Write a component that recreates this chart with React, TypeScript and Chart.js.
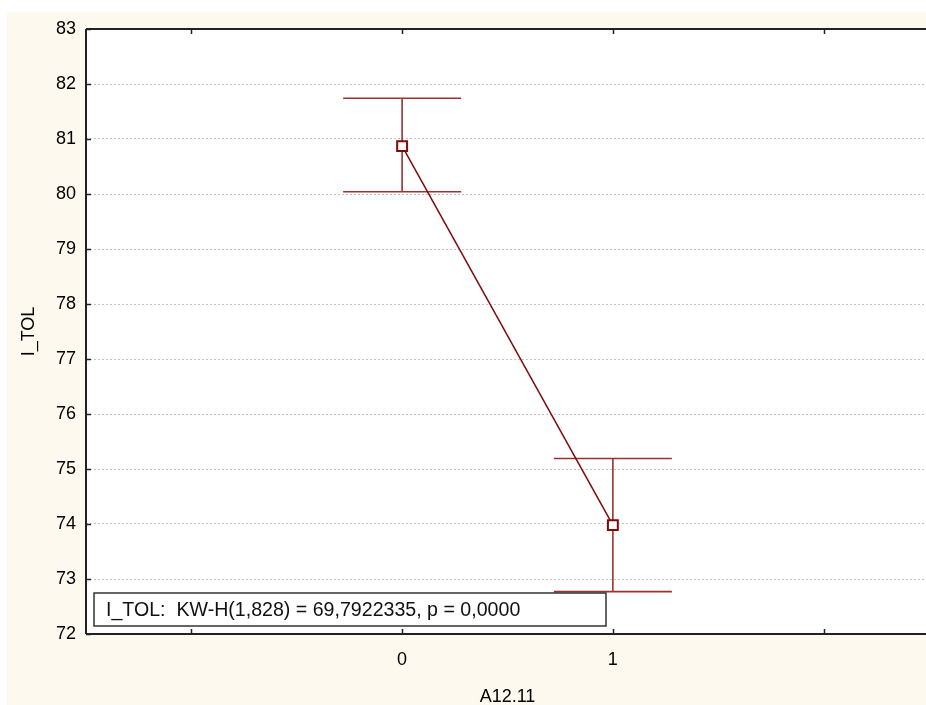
import React, { useEffect, useRef } from "react";
import { Chart, registerables } from "chart.js";

Chart.register(...registerables);

const categories = [0, 1];
const means = [80.87, 73.98];
const lowerBounds = [80.04, 72.77];
const upperBounds = [81.74, 75.19];
const xTickValues = [-1, 0, 1, 2];
const xTickLabels = ["", "0", "1", ""];
const yTicks = [72, 73, 74, 75, 76, 77, 78, 79, 80, 81, 82, 83];
const statText = "I_TOL:  KW-H(1,828) = 69,7922335, p = 0,0000";
const xTitle = "A12.11";
const yTitle = "I_TOL";

const FONT = "'Liberation Sans', Arial, sans-serif";
const LINE_COLOR = "#7f0a0a";
const BAR_COLOR = "#993333";
const AXIS_COLOR = "#222222";

const framePlugin = {
  id: "frameAndBars",
  beforeDraw(chart: any) {
    const { ctx, chartArea } = chart;
    ctx.save();
    ctx.fillStyle = "#ffffff";
    ctx.fillRect(chartArea.left, chartArea.top, chartArea.right - chartArea.left, chartArea.bottom - chartArea.top);
    ctx.restore();
  },
  beforeDatasetsDraw(chart: any) {
    const { ctx, scales } = chart;
    const xs = scales.x;
    const ys = scales.y;
    const capHalf = 0.28;
    ctx.save();
    ctx.strokeStyle = BAR_COLOR;
    ctx.lineWidth = 1.6;
    categories.forEach((c, i) => {
      const x = xs.getPixelForValue(c);
      const yl = ys.getPixelForValue(lowerBounds[i]);
      const yu = ys.getPixelForValue(upperBounds[i]);
      const xl = xs.getPixelForValue(c - capHalf);
      const xr = xs.getPixelForValue(c + capHalf);
      ctx.beginPath();
      ctx.moveTo(x, yl);
      ctx.lineTo(x, yu);
      ctx.moveTo(xl, yl);
      ctx.lineTo(xr, yl);
      ctx.moveTo(xl, yu);
      ctx.lineTo(xr, yu);
      ctx.stroke();
    });
    ctx.restore();
  },
  afterDraw(chart: any) {
    const { ctx, chartArea, scales } = chart;
    const xs = scales.x;
    const ys = scales.y;
    ctx.save();
    ctx.strokeStyle = AXIS_COLOR;
    ctx.lineWidth = 2;
    ctx.beginPath();
    ctx.moveTo(chartArea.left, chartArea.top);
    ctx.lineTo(chartArea.right, chartArea.top);
    ctx.moveTo(chartArea.left, chartArea.top);
    ctx.lineTo(chartArea.left, chartArea.bottom);
    ctx.moveTo(chartArea.left, chartArea.bottom);
    ctx.lineTo(chartArea.right, chartArea.bottom);
    ctx.stroke();
    ctx.lineWidth = 1.5;
    ctx.beginPath();
    xTickValues.forEach((v) => {
      const x = Math.round(xs.getPixelForValue(v)) + 0.5;
      ctx.moveTo(x, chartArea.top);
      ctx.lineTo(x, chartArea.top + 5);
      ctx.moveTo(x, chartArea.bottom);
      ctx.lineTo(x, chartArea.bottom - 5);
    });
    yTicks.forEach((v) => {
      const y = Math.round(ys.getPixelForValue(v)) + 0.5;
      ctx.moveTo(chartArea.left, y);
      ctx.lineTo(chartArea.left + 5, y);
    });
    ctx.stroke();
    const bx = chartArea.left + 8;
    const bh = 33;
    const by = chartArea.bottom - 8 - bh;
    const bw = 512;
    ctx.fillStyle = "#ffffff";
    ctx.fillRect(bx, by, bw, bh);
    ctx.strokeStyle = "#333333";
    ctx.lineWidth = 1.5;
    ctx.strokeRect(bx, by, bw, bh);
    ctx.fillStyle = "#111111";
    ctx.font = `19.6px ${FONT}`;
    ctx.textBaseline = "middle";
    ctx.textAlign = "left";
    ctx.fillText(statText, bx + 12, by + bh / 2 + 1);
    ctx.restore();
  },
};

export default function App() {
  const canvasRef = useRef<HTMLCanvasElement | null>(null);

  useEffect(() => {
    if (!canvasRef.current) return;
    const chart = new Chart(canvasRef.current, {
      type: "line",
      data: {
        datasets: [
          {
            data: categories.map((c, i) => ({ x: c, y: means[i] })),
            borderColor: LINE_COLOR,
            borderWidth: 1.5,
            pointStyle: "rect",
            pointRadius: 7,
            pointBackgroundColor: "#ffffff",
            pointBorderColor: LINE_COLOR,
            pointBorderWidth: 2,
            tension: 0,
          },
        ],
      },
      options: {
        responsive: false,
        animation: false,
        devicePixelRatio: 1,
        layout: { padding: { top: 17, right: 1, left: 0, bottom: 0 } },
        plugins: {
          legend: { display: false },
          tooltip: { enabled: false },
        },
        scales: {
          x: {
            type: "linear",
            min: -1.5,
            max: 2.5,
            afterBuildTicks: (scale: any) => {
              scale.ticks = xTickValues.map((v) => ({ value: v }));
            },
            afterFit: (scale: any) => {
              scale.height = 71;
              scale.paddingLeft = 0;
              scale.paddingRight = 0;
            },
            grid: { display: false, drawTicks: false },
            border: { display: false },
            ticks: {
              padding: 15,
              color: "#000000",
              font: { family: FONT, size: 18 },
              callback: (v: any) => {
                const idx = xTickValues.indexOf(Number(v));
                return idx >= 0 ? xTickLabels[idx] : "";
              },
            },
            title: {
              display: true,
              text: xTitle,
              color: "#000000",
              font: { family: FONT, size: 18 },
              padding: { top: 0, bottom: -3 },
            },
          },
          y: {
            type: "linear",
            min: 72,
            max: 83,
            afterBuildTicks: (scale: any) => {
              scale.ticks = yTicks.map((v) => ({ value: v }));
            },
            afterFit: (scale: any) => {
              scale.width = 79;
              scale.paddingTop = 0;
              scale.paddingBottom = 0;
            },
            grid: { color: "#c4c4c4", lineWidth: 1, drawTicks: false },
            border: { display: false, dash: [2, 2] },
            ticks: {
              padding: 10,
              color: "#000000",
              font: { family: FONT, size: 18 },
            },
            title: {
              display: true,
              text: yTitle,
              color: "#000000",
              font: { family: FONT, size: 18 },
              padding: { top: 11, bottom: 0 },
            },
          },
        },
      },
      plugins: [framePlugin],
    } as any);
    return () => chart.destroy();
  }, []);

  return (
    <div
      style={{
        position: "absolute",
        left: 7,
        top: 12,
        width: 919,
        height: 693,
        overflow: "hidden",
        background: "#fef9ee",
      }}
    >
      <div style={{ position: "absolute", left: 0, top: 0, width: 931, height: 693 }}>
        <canvas ref={canvasRef} width={931} height={693} style={{ display: "block" }} />
      </div>
    </div>
  );
}
